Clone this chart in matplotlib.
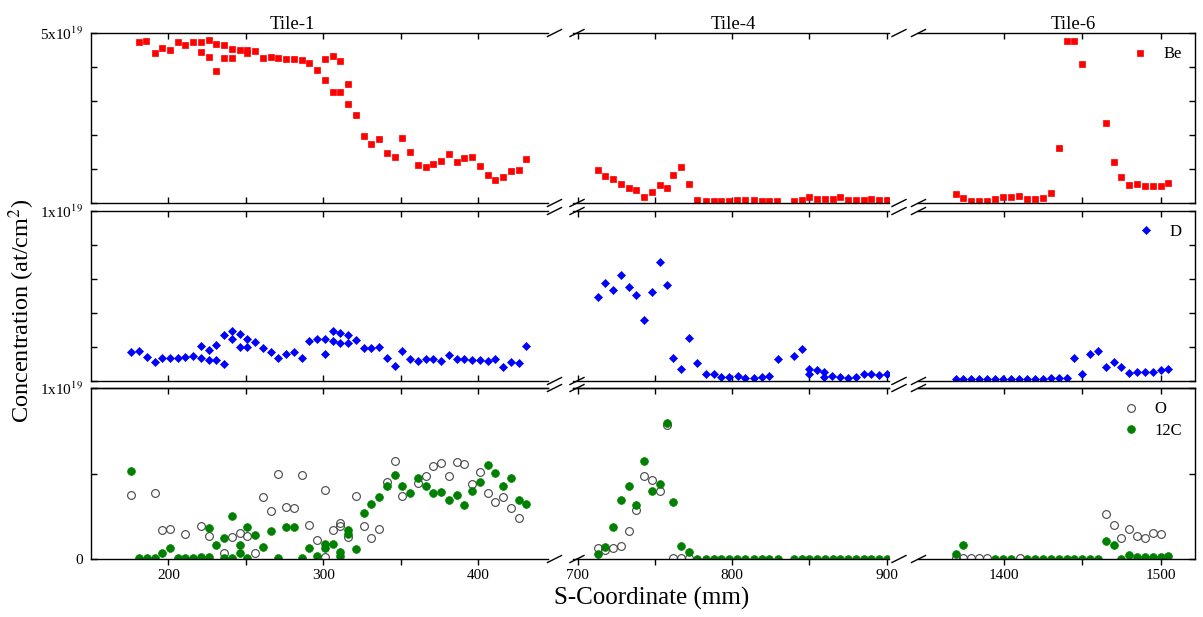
import numpy as np
import matplotlib.pyplot as plt
from matplotlib.lines import Line2D

plt.rcParams['font.family'] = ['Liberation Serif', 'DejaVu Serif']
plt.rcParams['mathtext.fontset'] = 'stix'

# Be (units of 1e19 at/cm2), position along S-coordinate (mm)
be_s = [181, 185.5, 191, 196, 201, 206, 211, 216, 221, 221, 226, 226, 231, 231, 236, 236,
        241, 241, 246, 251, 251, 256, 261, 266, 271, 276, 281, 286, 291, 296, 301, 301,
        306, 306, 311, 311, 316, 316, 321, 326, 331, 336, 341, 346, 351, 356, 361, 366,
        371, 376, 381, 386, 391, 396, 401, 406, 411, 416, 421, 426, 431,
        713, 718, 723, 728, 733, 738, 743, 748, 753, 758, 762, 767, 772, 777, 783, 788,
        793, 798, 803, 808, 814, 819, 824, 829, 840, 845, 850, 855, 860, 865, 870, 875,
        880, 885, 890, 895, 900,
        1369, 1374, 1379, 1384, 1389, 1394.5, 1399.5, 1404.5, 1409.5, 1414.5, 1419.5,
        1425, 1430, 1435, 1440, 1444.5, 1449.5, 1465, 1470, 1475, 1480, 1485, 1490,
        1495, 1500, 1505]
be_c = [4.80, 4.82, 4.52, 4.65, 4.60, 4.80, 4.72, 4.78, 4.78, 4.56, 4.83, 4.44, 4.74, 4.11,
        4.72, 4.42, 4.62, 4.42, 4.59, 4.59, 4.54, 4.58, 4.42, 4.43, 4.41, 4.39, 4.40, 4.36,
        4.29, 4.12, 4.38, 3.90, 4.46, 3.62, 4.33, 3.62, 3.81, 3.32, 3.07, 2.58, 2.40, 2.51,
        2.18, 2.08, 2.53, 2.21, 1.89, 1.84, 1.91, 1.98, 2.15, 1.97, 2.07, 2.09, 1.88, 1.65,
        1.53, 1.61, 1.75, 1.78, 2.03,
        1.78, 1.64, 1.56, 1.44, 1.35, 1.31, 1.13, 1.27, 1.43, 1.35, 1.67, 1.84, 1.44, 1.07,
        1.05, 1.05, 1.05, 1.05, 1.07, 1.07, 1.08, 1.05, 1.05, 1.05, 1.05, 1.08, 1.15, 1.10,
        1.09, 1.09, 1.13, 1.08, 1.08, 1.08, 1.09, 1.07, 1.07,
        1.21, 1.11, 1.05, 1.04, 1.04, 1.09, 1.13, 1.15, 1.16, 1.10, 1.10, 1.12, 1.23, 2.29,
        4.81, 4.82, 4.28, 2.89, 1.97, 1.60, 1.42, 1.45, 1.41, 1.41, 1.41, 1.47]

# D
d_s = [176, 181, 186, 191, 196, 201, 206, 211, 216, 221, 221, 226, 226, 231, 231, 236, 236,
       241, 241, 246, 246, 251, 251, 256, 261, 266, 271, 276, 281, 286, 291, 296, 301, 301,
       306, 306, 311, 311, 316, 316, 321, 326, 331, 336, 341, 346, 351, 356, 361, 366, 371,
       376, 381, 386, 391, 396, 401, 406, 411, 416, 421, 426, 431,
       713, 718, 723, 728, 733, 738, 743, 748, 753, 758, 762, 767, 772, 777.5, 783, 788, 793,
       798, 803.5, 808.5, 814, 819, 824, 829.5, 840, 845, 850, 850, 855, 859.5, 859.5,
       864.5, 870, 875, 880, 885, 890, 895, 900,
       1369, 1374, 1379, 1384, 1389, 1394.5, 1399.5, 1404.5, 1409.5, 1414.5, 1419.5, 1425,
       1430, 1435, 1440, 1445, 1450, 1455, 1460, 1465, 1470, 1475, 1480, 1485, 1490, 1495,
       1500, 1505]
d_c = [0.172, 0.175, 0.144, 0.109, 0.138, 0.138, 0.138, 0.142, 0.148, 0.207, 0.138, 0.181,
       0.125, 0.214, 0.125, 0.269, 0.099, 0.292, 0.250, 0.279, 0.201, 0.250, 0.201, 0.230,
       0.195, 0.168, 0.133, 0.156, 0.172, 0.138, 0.234, 0.250, 0.250, 0.158, 0.292, 0.234,
       0.283, 0.224, 0.273, 0.224, 0.244, 0.197, 0.197, 0.201, 0.133, 0.088, 0.175, 0.129,
       0.117, 0.129, 0.129, 0.117, 0.152, 0.129, 0.129, 0.123, 0.123, 0.117, 0.129, 0.084,
       0.113, 0.103, 0.205,
       0.493, 0.575, 0.538, 0.626, 0.552, 0.507, 0.357, 0.522, 0.702, 0.565, 0.136, 0.068,
       0.253, 0.103, 0.041, 0.041, 0.021, 0.021, 0.029, 0.016, 0.016, 0.021, 0.029, 0.129,
       0.150, 0.189, 0.068, 0.041, 0.064, 0.055, 0.021, 0.029, 0.021, 0.016, 0.021, 0.041,
       0.041, 0.035, 0.041,
       0.012, 0.012, 0.012, 0.012, 0.012, 0.012, 0.012, 0.012, 0.012, 0.012, 0.012, 0.012,
       0.020, 0.020, 0.020, 0.133, 0.041, 0.156, 0.177, 0.082, 0.113, 0.082, 0.045, 0.051,
       0.051, 0.051, 0.066, 0.070]

# O (open circles)
o_s = [176, 191, 196, 201, 211, 221, 226, 236, 241, 246, 251, 256, 261, 266, 271, 276, 281,
       286, 291, 296, 301, 301, 306, 311, 311, 316, 321, 326, 331, 336, 341, 346, 351, 361,
       366, 371, 376, 381, 386, 391, 396, 401, 406, 411, 416, 421, 426,
       713, 718, 723, 728, 733, 738, 743, 748, 753, 758, 762, 767, 772,
       1369, 1374, 1379, 1384, 1389, 1410, 1465, 1470, 1475, 1480, 1485, 1490, 1495, 1500]
o_c = [0.376, 0.384, 0.169, 0.176, 0.145, 0.194, 0.133, 0.033, 0.129, 0.151, 0.137, 0.033,
       0.365, 0.280, 0.498, 0.306, 0.296, 0.490, 0.196, 0.110, 0.406, 0.014, 0.169, 0.210,
       0.192, 0.131, 0.371, 0.192, 0.125, 0.176, 0.449, 0.573, 0.371, 0.445, 0.486, 0.541,
       0.563, 0.486, 0.565, 0.553, 0.439, 0.510, 0.388, 0.335, 0.365, 0.300, 0.241,
       0.065, 0.053, 0.065, 0.078, 0.161, 0.284, 0.484, 0.461, 0.396, 0.784, 0.004, 0.004,
       0.004,
       0.004, 0.004, 0.004, 0.004, 0.004, 0.004, 0.261, 0.196, 0.124, 0.173, 0.133, 0.124,
       0.153, 0.149]

# 12C (filled circles)
c_s = [176, 181, 186, 191, 196, 201, 206, 211, 216, 221, 226, 226, 231, 236, 236, 241, 241,
       246, 246, 251, 251, 256, 261, 266, 271, 276, 281, 286, 291, 296, 301, 301, 306, 311,
       311, 316, 316, 321, 326, 331, 336, 341, 346, 351, 356, 361, 366, 371, 376, 381, 386,
       391, 396, 401, 406, 411, 416, 421, 426, 431,
       713, 718, 723, 728, 733, 738, 743, 748, 753, 758, 762, 767, 772, 777.5, 783, 788, 793,
       798, 803, 808, 814, 819, 824, 829.5, 840, 845, 850, 855, 860, 865, 870, 875, 880,
       885, 890, 895, 900,
       1369, 1374, 1394.5, 1399.5, 1404.5, 1414.5, 1419.5, 1425, 1430, 1435, 1440, 1445,
       1450, 1455, 1460, 1465, 1470, 1475, 1480, 1485, 1490, 1495, 1500, 1505]
c_c = [0.514, 0.004, 0.004, 0.004, 0.035, 0.067, 0.004, 0.004, 0.008, 0.012, 0.180, 0.012,
       0.084, 0.124, 0.004, 0.249, 0.004, 0.082, 0.035, 0.186, 0.008, 0.141, 0.071, 0.165,
       0.004, 0.188, 0.188, 0.004, 0.063, 0.016, 0.086, 0.067, 0.090, 0.043, 0.016, 0.169,
       0.149, 0.057, 0.271, 0.324, 0.361, 0.427, 0.494, 0.427, 0.386, 0.471, 0.429, 0.388,
       0.394, 0.345, 0.376, 0.318, 0.396, 0.449, 0.547, 0.502, 0.429, 0.471, 0.345, 0.324,
       0.027, 0.073, 0.186, 0.343, 0.427, 0.314, 0.575, 0.398, 0.437, 0.798, 0.335, 0.076,
       0.043, 0.0, 0.0, 0.0, 0.0, 0.0, 0.0, 0.0, 0.0, 0.0, 0.0, 0.0, 0.0, 0.0, 0.0, 0.0,
       0.0, 0.0, 0.0, 0.0, 0.0, 0.0, 0.0, 0.0, 0.0,
       0.029, 0.084, 0.0, 0.0, 0.0, 0.0, 0.0, 0.0, 0.0, 0.0, 0.0, 0.0, 0.0, 0.0, 0.0, 0.106,
       0.084, 0.0, 0.025, 0.010, 0.010, 0.014, 0.010, 0.018]

titles = ['Tile-1', 'Tile-4', 'Tile-6']
title_s = [280, 801, 1444]

W, H = 1203, 617
fig = plt.figure(figsize=(W / 100, H / 100), dpi=100)

# panel layout in pixels (from top-left)
col_px = [(91, 548), (573, 889), (918, 1195)]
row_px = [(33, 203), (211, 381), (388, 559)]
xlims = [(150, 445), (697, 901.5), (1345, 1522)]
xticks = [np.arange(200, 401, 50), np.arange(700, 901, 50), np.arange(1400, 1501, 50)]
xlabeled = [(200, 300, 400), (700, 800, 900), (1400, 1500)]
ylims = [(1, 5), (0, 1), (0, 1)]
yticks = [np.linspace(1, 5, 6), np.linspace(0, 1, 6), [0, 0.5, 1]]
ylabs = [[''] * 5 + [r'5x10$^{19}$'], [''] * 5 + [r'1x10$^{19}$'], ['0', '', r'1x10$^{19}$']]


def px_axes(c, r):
    x0, x1 = col_px[c]
    y0, y1 = row_px[r]
    return fig.add_axes([x0 / W, 1 - y1 / H, (x1 - x0) / W, (y1 - y0) / H])


for r in range(3):
    for c in range(3):
        ax = px_axes(c, r)
        ax.set_xlim(xlims[c])
        ax.set_ylim(ylims[r])
        for sp in ax.spines.values():
            sp.set_linewidth(1.0)
        ax.spines['left'].set_visible(c == 0)
        ax.spines['right'].set_visible(c == 2)

        ax.set_xticks(xticks[c])
        ax.set_xticklabels([str(t) if t in xlabeled[c] else '' for t in xticks[c]])
        ax.set_yticks(yticks[r])
        ax.set_yticklabels(ylabs[r])
        ax.tick_params(axis='y', direction='in', length=4, width=1, left=(c == 0),
                       right=(c == 2), labelleft=(c == 0), labelright=False,
                       labelsize=11, pad=6)
        if r < 2:
            ax.tick_params(axis='x', direction='in', length=4, width=1, top=True,
                           bottom=True, labelbottom=False)
        else:
            ax.tick_params(axis='x', direction='out', length=4, width=1, top=False,
                           bottom=True, labelbottom=True, labelsize=11, pad=3)
            sec = ax.secondary_xaxis('top')
            sec.set_xticks(xticks[c])
            sec.tick_params(direction='in', length=4, width=1, labeltop=False)
            sec.spines['top'].set_linewidth(1.0)

        if r == 0:
            ax.plot(be_s, be_c, 's', color='#ff0000', ms=5, mew=0.5, label='Be')
        elif r == 1:
            ax.plot(d_s, d_c, 'D', color='#0000ff', ms=4.4, mew=0.5, label='D')
        else:
            ax.plot(o_s, o_c, 'o', mfc='none', mec='#444444', mew=0.8, ms=5.6, label='O')
            ax.plot(c_s, c_c, 'o', color='#008000', ms=5.6, mew=0.5, label='12C')

        if c == 2:
            ax.legend(loc='upper right', frameon=False, fontsize=12, handlelength=1.0,
                      handletextpad=0.9, borderaxespad=0.4, labelspacing=0.35)
        if r == 0:
            ax.text(title_s[c], 1.0, titles[c], transform=ax.get_xaxis_transform(),
                    ha='center', va='bottom', fontsize=13.5)

# axis break marks
breaks = [(554.5, 577), (899, 918.5)]
for y0, y1 in row_px:
    for yy in (y0, y1):
        for pair in breaks:
            for cx in pair:
                fig.add_artist(Line2D([(cx - 7) / W, (cx + 7) / W],
                                      [1 - (yy + 3.5) / H, 1 - (yy - 3.5) / H],
                                      color='black', lw=1.0, transform=fig.transFigure))

fig.text(652 / W, 1 - 598 / H, 'S-Coordinate (mm)', ha='center', va='center', fontsize=18)
fig.text(22 / W, 1 - 311 / H, r'Concentration (at/cm$^2$)', ha='center', va='center',
         rotation=90, fontsize=17.5)

fig.savefig('out.png', dpi=100)
